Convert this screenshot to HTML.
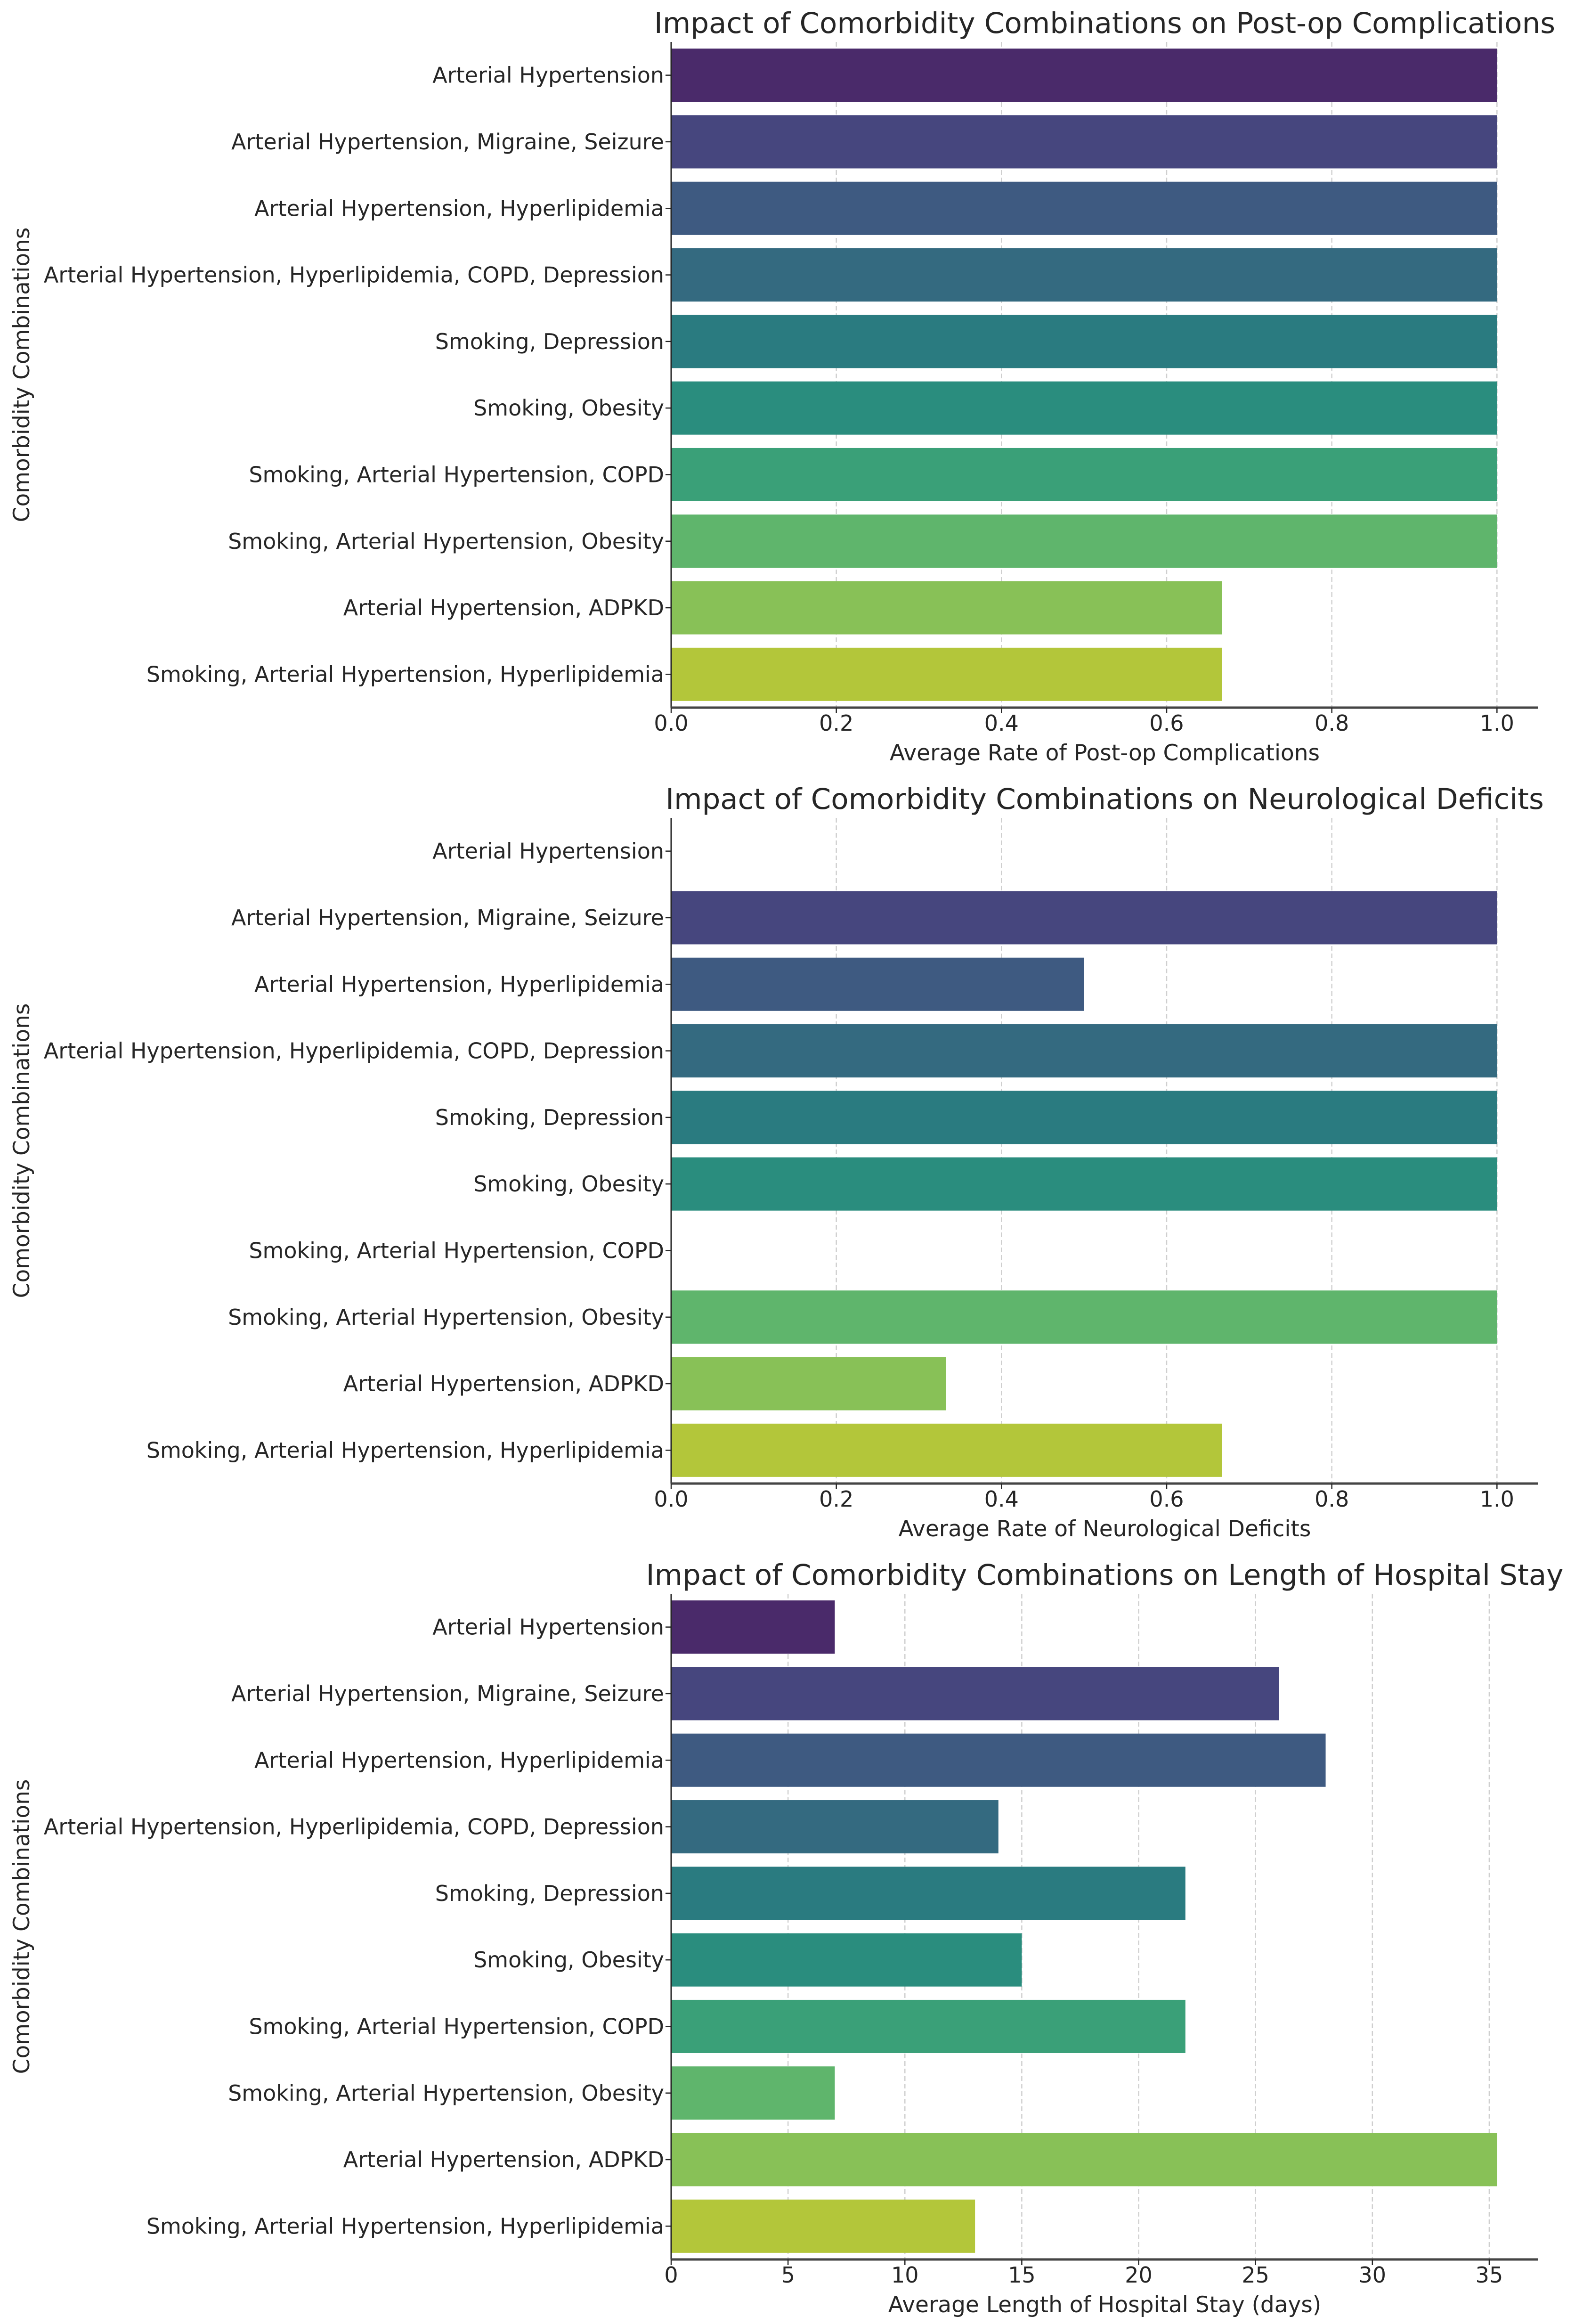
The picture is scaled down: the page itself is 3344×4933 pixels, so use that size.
<!DOCTYPE html>
<html><head><meta charset="utf-8">
<style>
html,body{margin:0;padding:0;background:#fff;}
svg{display:block;}
text{font-family:"DejaVu Sans","Liberation Sans",sans-serif;fill:#262626;}
</style></head>
<body>
<svg id="chart" width="3344" height="4933" viewBox="0 0 3344 4933" xmlns="http://www.w3.org/2000/svg"></svg>
<script>
const categories = ["Arterial Hypertension","Arterial Hypertension, Migraine, Seizure","Arterial Hypertension, Hyperlipidemia","Arterial Hypertension, Hyperlipidemia, COPD, Depression","Smoking, Depression","Smoking, Obesity","Smoking, Arterial Hypertension, COPD","Smoking, Arterial Hypertension, Obesity","Arterial Hypertension, ADPKD","Smoking, Arterial Hypertension, Hyperlipidemia"];
const postopValues = [1,1,1,1,1,1,1,1,0.667,0.667];
const neuroValues = [0,1,0.5,1,1,1,0,1,0.333,0.667];
const stayValues = [7,26,28,14,22,15,22,7,35.33,13];
const rateTicks = [0,0.2,0.4,0.6,0.8,1.0];
const rateTickLabels = ["0.0","0.2","0.4","0.6","0.8","1.0"];
const stayTicks = [0,5,10,15,20,25,30,35];
const stayTickLabels = ["0","5","10","15","20","25","30","35"];
const colors = ["#4a2a6a","#46467e","#3e5a81","#346a80","#2a7b80","#2a8d7e","#3aa078","#5fb56c","#88c157","#b3c63a"];

const panels = [
  {name:"postop", title:"Impact of Comorbidity Combinations on Post-op Complications", xlabel:"Average Rate of Post-op Complications", values:postopValues, ticks:rateTicks, labels:rateTickLabels, xmax:1.05},
  {name:"neuro", title:"Impact of Comorbidity Combinations on Neurological Deficits", xlabel:"Average Rate of Neurological Deficits", values:neuroValues, ticks:rateTicks, labels:rateTickLabels, xmax:1.05},
  {name:"stay", title:"Impact of Comorbidity Combinations on Length of Hospital Stay", xlabel:"Average Length of Hospital Stay (days)", values:stayValues, ticks:stayTicks, labels:stayTickLabels, xmax:Math.max(...stayValues)*1.05}
];
const NS="http://www.w3.org/2000/svg";
const svg=document.getElementById('chart');
function mk(tag, attrs, parent){const e=document.createElementNS(NS,tag);for(const k in attrs)e.setAttribute(k,attrs[k]);parent.appendChild(e);return e;}
const X0=1425, X1=3266, PANEL_H=1647, TOP0=89, BOT0=1502;
panels.forEach((p,pi)=>{
  const off=pi*PANEL_H;
  const top=TOP0+off, bot=BOT0+off;
  const g=mk('g',{},svg);
  
  
  const xs=v=>X0+(v/p.xmax)*(X1-X0);
  const n=categories.length, step=(bot-top)/n;
  const ys=i=>top+step*(i+0.5);
  p.ticks.forEach((t,ti)=>{
    const gl=mk('line',{x1:xs(t),x2:xs(t),y1:top,y2:bot,stroke:"#cfcfcf","stroke-width":2.5,"stroke-dasharray":"10,6"},g);
    
    
  });
  p.values.forEach((v,i)=>{
    const h=step*0.8;
    const r=mk('rect',{x:X0,y:ys(i)-h/2,width:Math.max(0,xs(v)-X0),height:h,fill:colors[i]},g);
    
    
  });
  categories.forEach((c,i)=>{
    mk('line',{x1:X0-12,x2:X0,y1:ys(i),y2:ys(i),stroke:"#262626","stroke-width":2.5},g);
    const t=mk('text',{x:1410,y:ys(i)+16,"text-anchor":"end","font-size":46},g);
    
    
    t.textContent=c;
  });
  const la=mk('line',{x1:X0,x2:X0,y1:top,y2:bot,stroke:"#262626","stroke-width":3},g);
  
  
  const ba=mk('line',{x1:X0,x2:X1,y1:bot,y2:bot,stroke:"#444","stroke-width":5},g);
  
  
  p.ticks.forEach((t,ti)=>{
    mk('line',{x1:xs(t),x2:xs(t),y1:bot,y2:bot+12,stroke:"#262626","stroke-width":2.5},g);
    const tl=mk('text',{x:xs(t),y:bot+49,"text-anchor":"middle","font-size":46},g);
    
    
    tl.textContent=p.labels[ti];
  });
  const xl=mk('text',{x:(X0+X1)/2,y:bot+112,"text-anchor":"middle","font-size":47},g);
  
  
  xl.textContent=p.xlabel;
  const tt=mk('text',{x:(X0+X1)/2,y:off+70,"text-anchor":"middle","font-size":61},g);
  
  
  tt.textContent=p.title;
  const cy=(top+bot)/2;
  const yl=mk('text',{x:62,y:cy,"text-anchor":"middle","font-size":47,transform:`rotate(-90 62 ${cy})`},g);
  
  
  yl.textContent="Comorbidity Combinations";
});
</script>
</body></html>
